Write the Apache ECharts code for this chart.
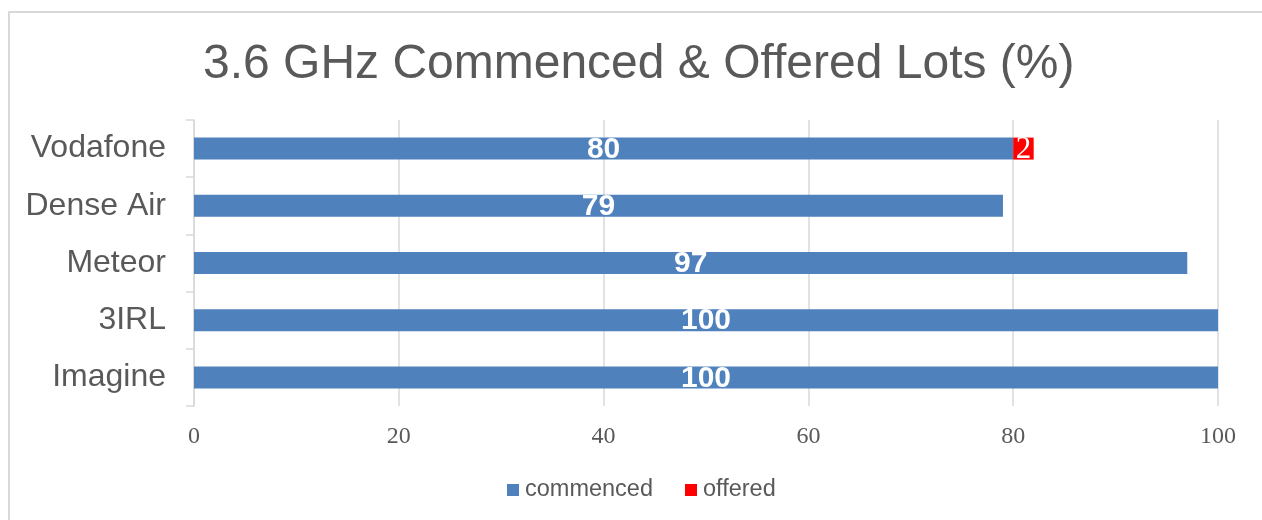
<!DOCTYPE html>
<html>
<head>
  <meta charset="utf-8">
  <title>ECharts</title>
  <script src="https://cdn.jsdelivr.net/npm/echarts@6/dist/echarts.min.js"></script>
  <style>
    body { margin: 0; }
    #frame { position: absolute; left: 8px; top: 11px; width: 1300px; height: 560px;
             border-left: 2px solid #d9d9d9; border-top: 2px solid #d9d9d9; }
    #main { position: absolute; left: 0; top: 0; width: 1262px; height: 520px; }
  </style>
</head>
<body>
<div id="frame"></div>
<div id="main"></div>
<script type="text/javascript">
  // data
  var companies = ['Vodafone', 'Dense Air', 'Meteor', '3IRL', 'Imagine'];
  var commenced = [80, 79, 97, 100, 100];
  var offered = [2, null, null, null, null];
  var ticks = [0, 20, 40, 60, 80, 100];

  var chartDom = document.getElementById('main');
  var myChart = echarts.init(chartDom);
  var option;

  option = {
    title: {
      text: '3.6 GHz Commenced & Offered Lots (%)',
      left: 198,
      top: 36,
      textStyle: {
        fontFamily: 'Liberation Sans',
        fontSize: 48,
        fontWeight: 'normal',
        color: '#595959'
      }
    },
    legend: {
      bottom: 13,
      left: 502,
      itemWidth: 12,
      itemHeight: 12,
      itemGap: 32,
      icon: 'rect',
      textStyle: {
        fontFamily: 'Liberation Sans',
        fontSize: 23.5,
        color: '#595959',
        padding: [0, 0, 0, 1]
      }
    },
    grid: {
      left: 194,
      right: 44,
      top: 120,
      bottom: 114,
      containLabel: false
    },
    xAxis: {
      type: 'value',
      min: ticks[0],
      max: ticks[ticks.length - 1],
      interval: 20,
      axisLine: { show: false },
      axisTick: { show: false },
      splitLine: { lineStyle: { color: '#d9d9d9', width: 1.5 } },
      axisLabel: {
        fontFamily: 'Liberation Serif',
        fontSize: 24,
        color: '#595959',
        margin: 19
      }
    },
    yAxis: {
      type: 'category',
      inverse: true,
      data: companies,
      axisLine: { lineStyle: { color: '#d9d9d9', width: 1.5 } },
      axisTick: { show: true, length: 8, lineStyle: { color: '#d9d9d9', width: 1.5 } },
      axisLabel: {
        fontFamily: 'Liberation Sans',
        fontSize: 32,
        color: '#595959',
        margin: 28
      }
    },
    series: [
      {
        name: 'commenced',
        type: 'bar',
        stack: 'lots',
        barWidth: 22,
        data: commenced,
        itemStyle: { color: '#4f81bd' },
        label: {
          show: true,
          position: 'inside',
          color: '#ffffff',
          fontFamily: 'Liberation Sans',
          fontWeight: 'bold',
          fontSize: 30,
          offset: [0, 1]
        }
      },
      {
        name: 'offered',
        type: 'bar',
        stack: 'lots',
        barWidth: 22,
        data: offered,
        itemStyle: { color: '#ff0000' },
        label: {
          show: true,
          position: 'inside',
          color: '#ffffff',
          fontFamily: 'Liberation Serif',
          fontSize: 31,
          offset: [0, 1]
        }
      }
    ]
  };

  option && myChart.setOption(option);
</script>
</body>
</html>
